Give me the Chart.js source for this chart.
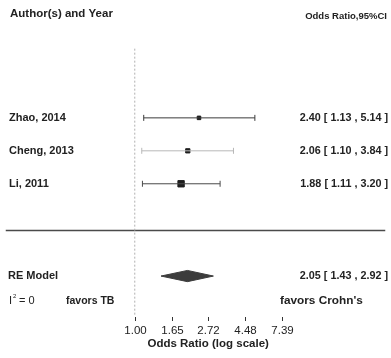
<!DOCTYPE html>
<html>
<head>
<meta charset="utf-8">
<script src="https://cdn.jsdelivr.net/npm/chart.js@4.4.1/dist/chart.umd.min.js"></script>
<style>
  html, body { margin: 0; padding: 0; background: #fff; }
  #forestChart { display: block; }
</style>
</head>
<body>
<canvas id="forestChart" width="391" height="358"></canvas>
<script>
// forest plot data
var studies = ['Zhao, 2014', 'Cheng, 2013', 'Li, 2011'];
var oddsRatio = [2.40, 2.06, 1.88];
var ciLower = [1.13, 1.10, 1.11];
var ciUpper = [5.14, 3.84, 3.20];
var studyRow = [3, 2, 1];
var markerSize = [2.5, 3, 4.5];

var pooledLabel = 'RE Model';
var pooledOR = 2.05;
var pooledLower = 1.43;
var pooledUpper = 2.92;
var pooledRow = -1.8;

var tickValues = [1.00, 1.65, 2.72, 4.48, 7.39];
var tickLabels = ['1.00', '1.65', '2.72', '4.48', '7.39'];

// axis ranges so the plot sits where it does in the figure
var xMin = 0.1717, xMax = 30.5;
var yMin = -4.12, yMax = 6.41;
var sepRow = -0.42;
var refTop = 5.1, refBottom = -3.0;
var diamondHalf = 0.17;

var FONT = 'Liberation Sans, Arial, sans-serif';

function fmt(or, lo, hi)
{
    return or.toFixed(2) + ' [ ' + lo.toFixed(2) + ' , ' + hi.toFixed(2) + ' ]';
}

var datasets = [];

// vertical reference line at OR = 1
datasets.push({
    data: [{x: 1, y: refTop}, {x: 1, y: refBottom}],
    showLine: true, borderColor: '#b0b0b0', borderWidth: 1, borderDash: [2, 2],
    pointRadius: 0
});

// separator between studies and pooled estimate
datasets.push({
    data: [{x: xMin, y: sepRow}, {x: xMax, y: sepRow}],
    showLine: true, borderColor: '#4a4a4a', borderWidth: 1.5, pointRadius: 0
});

// confidence intervals
var ciColors = ['#3a3a3a', '#b8b8b8', '#4a4a4a'];
for (let i = 0; i < studies.length; i++)
{
    datasets.push({
        data: [{x: ciLower[i], y: studyRow[i]}, {x: ciUpper[i], y: studyRow[i]}],
        showLine: true, borderColor: ciColors[i], borderWidth: 1,
        pointStyle: 'line', rotation: 90, pointRadius: 3,
        pointBorderColor: ciColors[i], pointBorderWidth: 1
    });
}

// study estimates
datasets.push({
    data: oddsRatio.map(function (v, i) { return {x: v, y: studyRow[i]}; }),
    pointStyle: 'rect', pointRadius: markerSize,
    backgroundColor: '#1e1e1e', borderColor: '#1e1e1e', borderWidth: 1
});

// pooled diamond
datasets.push({
    data: [
        {x: pooledLower, y: pooledRow},
        {x: pooledOR, y: pooledRow + diamondHalf},
        {x: pooledUpper, y: pooledRow},
        {x: pooledOR, y: pooledRow - diamondHalf},
        {x: pooledLower, y: pooledRow}
    ],
    showLine: true, fill: 'shape', tension: 0,
    borderColor: '#3c3c3c', backgroundColor: '#3c3c3c', borderWidth: 1,
    pointRadius: 0
});

// text labels and the hand made axis
var textPlugin = {
    id: 'forestText',
    afterDraw: function (chart)
    {
        var ctx = chart.ctx;
        var xs = chart.scales.x, ys = chart.scales.y;
        ctx.save();
        ctx.fillStyle = '#222';
        ctx.textBaseline = 'middle';

        ctx.font = 'bold 11.5px ' + FONT;
        ctx.textAlign = 'left';
        ctx.fillText('Author(s) and Year', 10, 14);
        ctx.font = 'bold 9.5px ' + FONT;
        ctx.textAlign = 'right';
        ctx.fillText('Odds Ratio,95%CI', 387, 16);

        for (let i = 0; i < studies.length; i++)
        {
            var y = ys.getPixelForValue(studyRow[i]);
            ctx.font = 'bold 11px ' + FONT;
            ctx.textAlign = 'left';
            ctx.fillText(studies[i], 9, y);
            ctx.font = 'bold 10.8px ' + FONT;
            ctx.textAlign = 'right';
            ctx.fillText(fmt(oddsRatio[i], ciLower[i], ciUpper[i]), 388, y);
        }

        var py = ys.getPixelForValue(pooledRow);
        ctx.font = 'bold 11px ' + FONT;
        ctx.textAlign = 'left';
        ctx.fillText(pooledLabel, 8, py);
        ctx.font = 'bold 10.8px ' + FONT;
        ctx.textAlign = 'right';
        ctx.fillText(fmt(pooledOR, pooledLower, pooledUpper), 388, py);

        // heterogeneity and direction labels
        var hy = 301;
        ctx.textAlign = 'left';
        ctx.font = '11px ' + FONT;
        ctx.fillText('I', 9, hy);
        ctx.font = '6px ' + FONT;
        ctx.fillText('2', 13, hy - 5);
        ctx.font = '11px ' + FONT;
        ctx.fillText(' = 0', 16, hy);
        ctx.font = 'bold 10.5px ' + FONT;
        ctx.fillText('favors TB', 66, hy);
        ctx.font = 'bold 11.8px ' + FONT;
        ctx.fillText("favors Crohn's", 280, hy);

        // x axis ticks
        ctx.strokeStyle = '#333';
        ctx.lineWidth = 1;
        ctx.font = '11.5px ' + FONT;
        ctx.textAlign = 'center';
        for (let i = 0; i < tickValues.length; i++)
        {
            var tx = Math.round(xs.getPixelForValue(tickValues[i])) + 0.5;
            ctx.beginPath();
            ctx.moveTo(tx, 317);
            ctx.lineTo(tx, 321);
            ctx.stroke();
            ctx.fillText(tickLabels[i], tx, 331);
        }
        ctx.font = 'bold 11.5px ' + FONT;
        ctx.fillText('Odds Ratio (log scale)', xs.getPixelForValue(2.72), 344);
        ctx.restore();
    }
};

var ctx = document.getElementById('forestChart').getContext('2d');
var forestChart = new Chart(ctx, {
    type: 'scatter',
    data: { datasets: datasets },
    options: {
        responsive: false,
        animation: false,
        devicePixelRatio: 1,
        layout: { padding: 0 },
        plugins: {
            legend: { display: false },
            tooltip: { enabled: false }
        },
        scales: {
            x: { type: 'logarithmic', min: xMin, max: xMax, display: false },
            y: { type: 'linear', min: yMin, max: yMax, display: false }
        }
    },
    plugins: [textPlugin]
});
</script>
</body>
</html>
